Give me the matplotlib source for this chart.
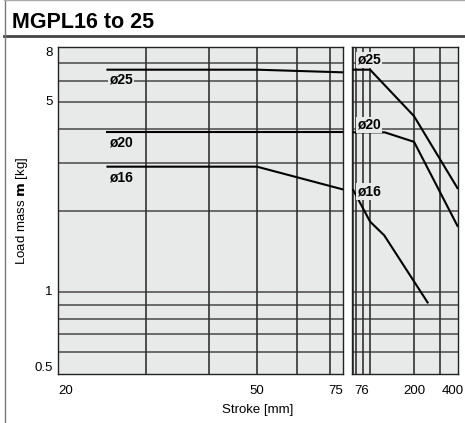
import matplotlib
matplotlib.use("Agg")
import matplotlib.pyplot as plt
from matplotlib.lines import Line2D
from matplotlib import transforms

plt.rcParams['font.family'] = ['Liberation Sans', 'DejaVu Sans']

# ---- data ----
sizes = ["ø25", "ø20", "ø16"]
left_x = {"ø25": [25, 50, 75], "ø20": [25, 50, 75], "ø16": [25, 50, 75]}
left_y = {"ø25": [6.6, 6.6, 6.45], "ø20": [3.9, 3.9, 3.9], "ø16": [2.9, 2.9, 2.38]}
right_x = {"ø25": [76, 100, 200, 400], "ø20": [76, 126, 200, 400], "ø16": [76, 100, 125, 250]}
right_y = {"ø25": [6.6, 6.6, 4.45, 2.4], "ø20": [3.88, 3.88, 3.58, 1.74], "ø16": [2.4, 1.82, 1.62, 0.91]}

y_grid = [0.6, 0.7, 0.8, 0.9, 1, 2, 3, 4, 5, 6, 7]
y_ticklabels = ["8", "5", "1", "0.5"]
left_grid = [30, 40, 50, 60, 70]
right_grid = [76, 80, 90, 100, 200, 300]
left_ticklabels = ["20", "50", "75"]
right_ticklabels = ["76", "200", "400"]

W, H = 465, 423
fig = plt.figure(figsize=(W / 100, H / 100), dpi=100)
bg = "#e8e9e9"

def fx(px):
    return px / W

def fy(py):
    return 1 - py / H

axL = fig.add_axes([fx(58), fy(374), fx(343) - fx(58), fy(47) - fy(374)])
axR = fig.add_axes([fx(352), fy(374), fx(458) - fx(352), fy(47) - fy(374)])

for ax, xlim, vgrid in [(axL, (20, 74.3), left_grid), (axR, (75.2, 400), right_grid)]:
    ax.set_xscale("log")
    ax.set_yscale("log")
    ax.set_xlim(*xlim)
    ax.set_ylim(0.5, 8)
    ax.set_facecolor(bg)
    ax.set_xticks([])
    ax.set_yticks([])
    ax.minorticks_off()
    ax.tick_params(which="both", length=0, labelleft=False, labelbottom=False)
    for v in y_grid:
        ax.axhline(v, color="#555555", lw=1.2, zorder=1)
    for v in vgrid:
        ax.axvline(v, color="#333333", lw=1.2, zorder=1)
    for s in ax.spines.values():
        s.set_color("#222222")
        s.set_linewidth(1.0)

for s in sizes:
    axL.plot(left_x[s], left_y[s], color="black", lw=1.5, zorder=3, solid_capstyle="butt")
    axR.plot(right_x[s], right_y[s], color="black", lw=1.5, zorder=3, solid_capstyle="butt")

# curve labels
lab_left = {"ø25": 6.05, "ø20": 3.57, "ø16": 2.65}
lab_right = {"ø25": 7.17, "ø20": 4.13, "ø16": 2.35}
for s in sizes:
    axL.text(25.3, lab_left[s], s, fontsize=10, fontweight="bold", ha="left", va="center",
             zorder=4, bbox=dict(facecolor=bg, edgecolor="none", pad=1.0))
    axR.text(81.6, lab_right[s], s, fontsize=10, fontweight="bold", ha="left", va="center",
             zorder=4, bbox=dict(facecolor=bg, edgecolor="none", pad=1.0))

# y tick labels
ty = transforms.blended_transform_factory(axL.transAxes, axL.transData)
yvals = [8, 5, 1, 0.5]
yva = ["top", "center", "center", "bottom"]
for v, t, va in zip(yvals, y_ticklabels, yva):
    axL.text(-0.018, v, t, transform=ty, fontsize=9.5, ha="right", va=va)

# x tick labels
txL = transforms.blended_transform_factory(axL.transData, axL.transAxes)
txR = transforms.blended_transform_factory(axR.transData, axR.transAxes)
for v, t, ha in zip([20, 50, 74.3], left_ticklabels, ["left", "center", "right"]):
    axL.text(v, -0.035, t, transform=txL, fontsize=9.5, ha=ha, va="top")
for v, t, ha in zip([77.5, 200, 400], right_ticklabels, ["left", "center", "center"]):
    tr = txR
    if t == "400":
        tr = transforms.offset_copy(txR, fig=fig, x=-5, y=0, units="dots")
    axR.text(v, -0.035, t, transform=tr, fontsize=9.5, ha=ha, va="top")

# axis labels
fig.text(fx(258), fy(410), "Stroke [mm]", fontsize=9.5, ha="center", va="center")
fig.text(fx(22), fy(211), r"Load mass $\mathbf{m}$ [kg]", fontsize=9.5, ha="center", va="center",
         rotation=90)

# title and frame
fig.text(fx(12), fy(23), "MGPL16 to 25", fontsize=15.5, fontweight="bold", ha="left", va="center")
fig.add_artist(Line2D([fx(4), 1], [fy(36), fy(36)], color="#444444", lw=2.0))
fig.add_artist(Line2D([fx(4.5), fx(4.5)], [0, 1], color="#777777", lw=1.0))
fig.add_artist(Line2D([fx(4), 1], [fy(0.5), fy(0.5)], color="#aaaaaa", lw=1.0))

fig.savefig("out.png", dpi=100, facecolor="white")
